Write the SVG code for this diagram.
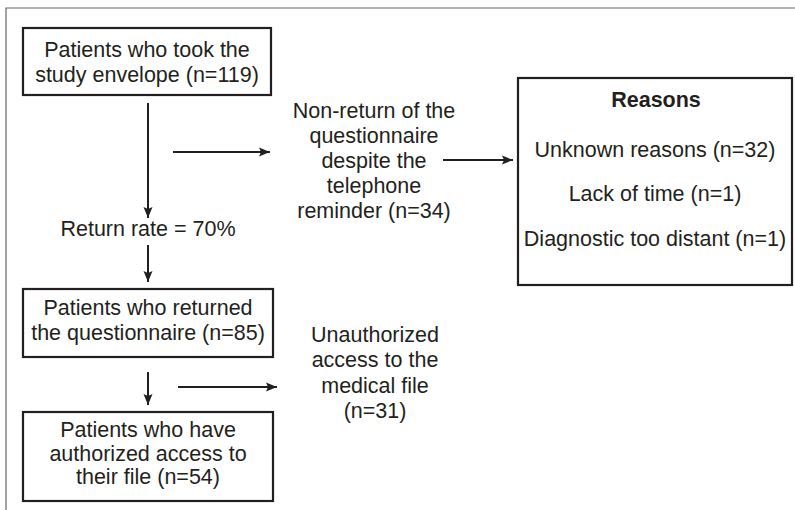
<svg xmlns="http://www.w3.org/2000/svg" width="795" height="510" viewBox="0 0 795 510">
<defs>
<marker id="ah" viewBox="0 0 11 10" refX="11" refY="5" markerWidth="11" markerHeight="10" markerUnits="userSpaceOnUse" orient="auto">
<path d="M0,0.5 L11,5 L0,9.5 L2,5 z" fill="#231f20"/>
</marker>
</defs>
<style>
text{font-family:"Liberation Sans",Arial,Helvetica,sans-serif;font-size:21.5px;fill:#231f20;text-anchor:middle}
.b{font-weight:bold}
.box{fill:#fff;stroke:#231f20;stroke-width:2.2}
.c{stroke:#231f20;stroke-width:2;fill:none;marker-end:url(#ah)}
.frame{stroke:#666;stroke-width:1.2;fill:none}
</style>
<rect width="795" height="510" fill="#fff"/>
<path class="frame" d="M6,510 V8 H795"/>
<g id="n1">
<rect class="box" x="23" y="28" width="248" height="67"/>
<text x="147" y="57">Patients who took the</text>
<text x="147" y="82">study envelope (n=119)</text>
</g>
<g id="n2">
<text x="148" y="236">Return rate = 70%</text>
</g>
<g id="n3">
<text x="374" y="118">Non-return of the</text>
<text x="374" y="143">questionnaire</text>
<text x="374" y="168">despite the</text>
<text x="374" y="193">telephone</text>
<text x="374" y="218">reminder (n=34)</text>
</g>
<g id="n4">
<rect class="box" x="518" y="78" width="274" height="207"/>
<text class="b" x="656" y="107">Reasons</text>
<text x="655" y="157">Unknown reasons (n=32)</text>
<text x="655" y="201">Lack of time (n=1)</text>
<text x="655" y="246">Diagnostic too distant (n=1)</text>
</g>
<g id="n5">
<rect class="box" x="23" y="289" width="250" height="68"/>
<text x="148" y="315">Patients who returned</text>
<text x="148" y="340">the questionnaire (n=85)</text>
</g>
<g id="n6">
<text x="375" y="342">Unauthorized</text>
<text x="375" y="367">access to the</text>
<text x="375" y="393">medical file</text>
<text x="375" y="418">(n=31)</text>
</g>
<g id="n7">
<rect class="box" x="23" y="412" width="250" height="89"/>
<text x="148" y="437">Patients who have</text>
<text x="148" y="461">authorized access to</text>
<text x="148" y="484">their file (n=54)</text>
</g>
<g id="connectors">
<line class="c" x1="148" y1="103" x2="148" y2="218"/>
<line class="c" x1="173" y1="152" x2="270" y2="152"/>
<line class="c" x1="443" y1="160" x2="513" y2="160"/>
<line class="c" x1="148" y1="245" x2="148" y2="282"/>
<line class="c" x1="148" y1="372" x2="148" y2="405"/>
<line class="c" x1="178" y1="387" x2="277" y2="387"/>
</g>
</svg>
